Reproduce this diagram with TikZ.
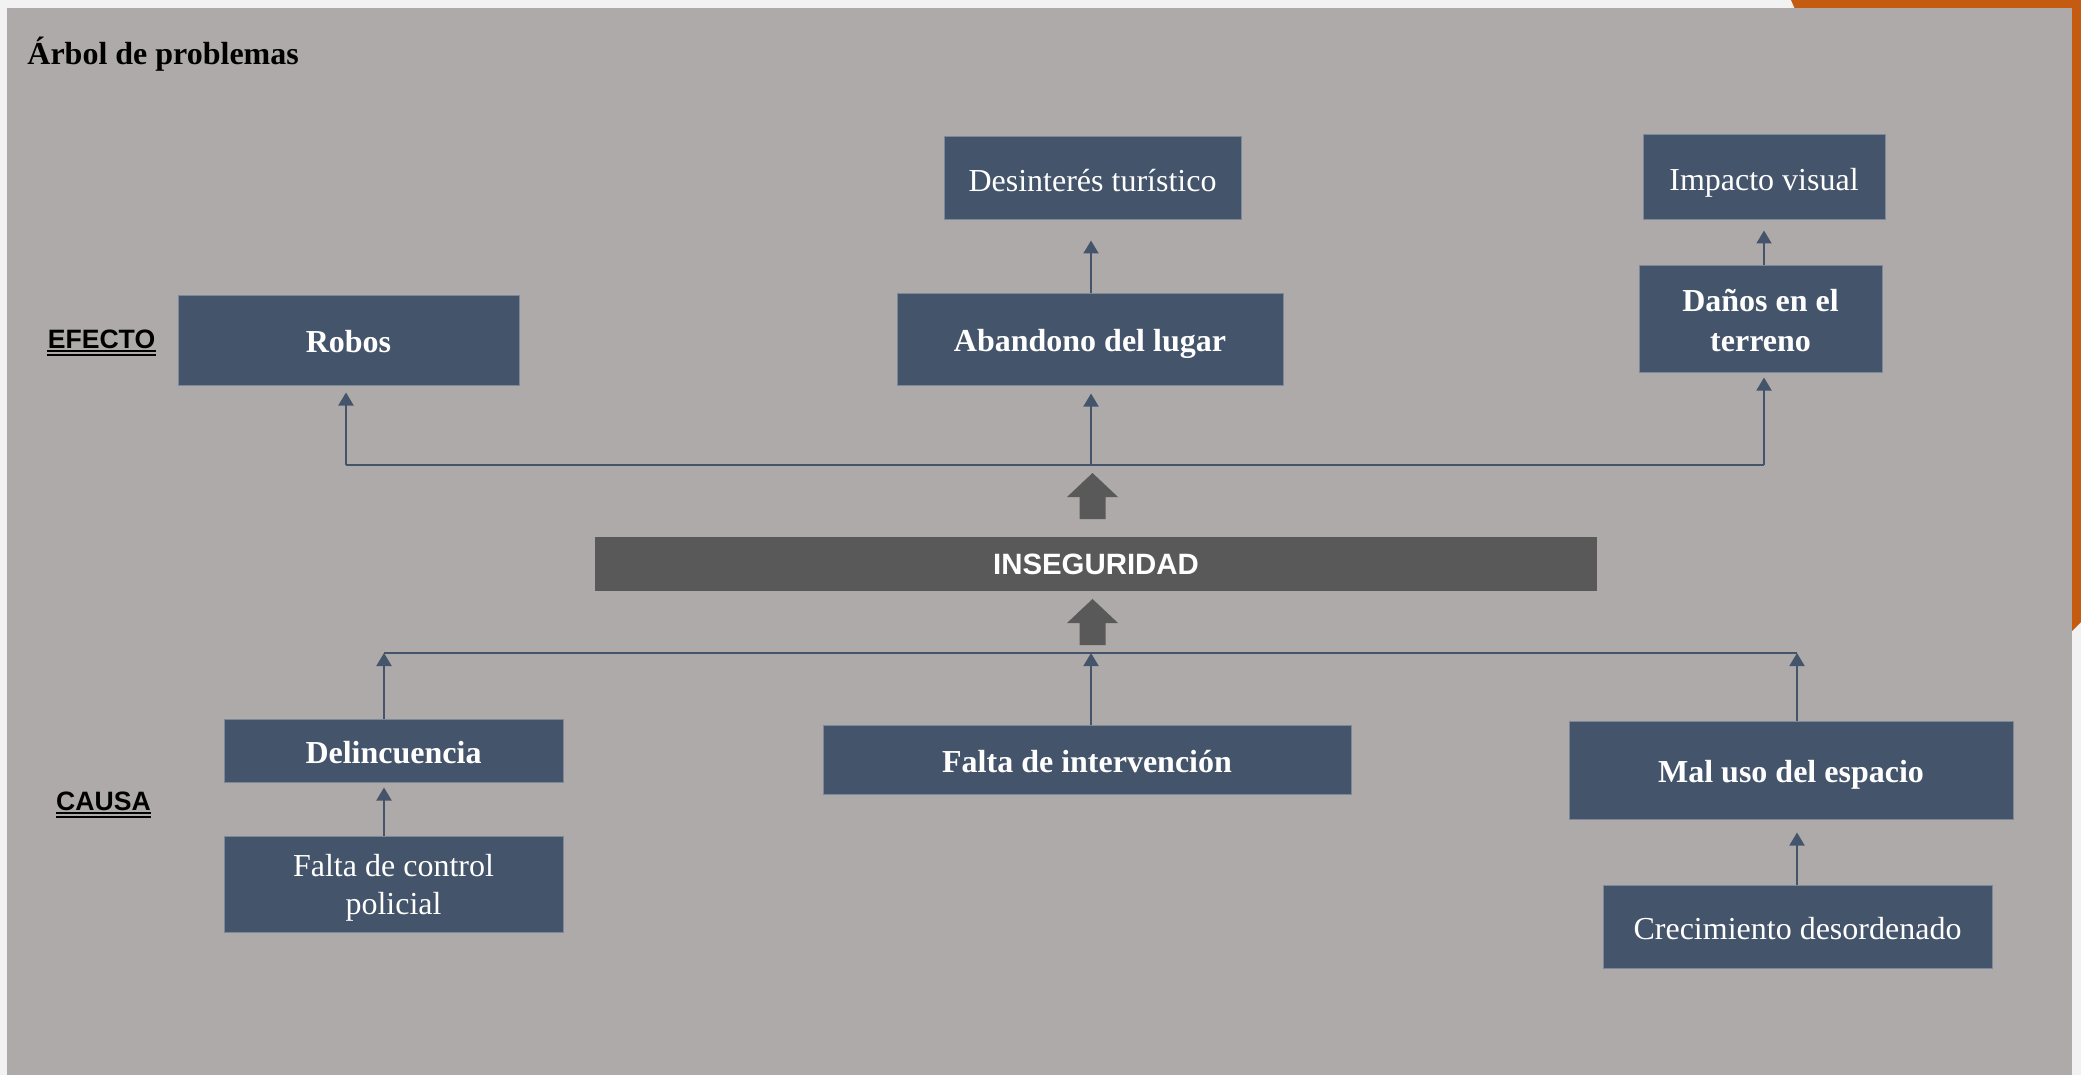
\documentclass[tikz,border=0pt]{standalone}
\usepackage{fontspec}
\setmainfont{Liberation Serif}
\newfontfamily\headfont{Liberation Sans}
\usetikzlibrary{arrows.meta}
\definecolor{myslate}{RGB}{68,84,106}
\definecolor{myslateedge}{RGB}{125,137,153}
\definecolor{mypanel}{RGB}{174,170,170}
\definecolor{mydarkgray}{RGB}{89,89,89}
\definecolor{myorange}{RGB}{197,90,17}
\definecolor{mypaper}{RGB}{242,242,242}
\newcommand{\boxfont}{\fontsize{16}{20}\selectfont}
\newcommand{\tipwidth}{7.5pt}
\newcommand{\tiplength}{6.5pt}
\newcommand{\topstrut}[1]{\rule{0pt}{#1}}
\tikzset{
    common/.style={rectangle, draw=myslateedge, line width=0.5pt, fill=myslate, text=white, align=center, inner sep=0pt, text height=15pt, text depth=2.4pt},
    boldbox/.style={common, font=\boxfont\bfseries},
    lightbox/.style={common, font=\boxfont},
    twolines/.style={text height={}, text depth={}},
    core/.style={rectangle, fill=mydarkgray, text=white, inner sep=0pt, font=\headfont\fontsize{14.7}{17}\selectfont\bfseries},
    heading/.style={inner sep=0pt, font=\headfont\fontsize{13.3}{16}\selectfont\bfseries},
    link/.style={draw=myslate, line width=1pt, -{Triangle[width=\tipwidth, length=\tiplength]}},
    bus/.style={draw=myslate, line width=0.75pt},
    fatarrow/.pic={
        \fill[mydarkgray] (0,0) -- (25.5,24) -- (13,24) -- (13,46) -- (-13,46) -- (-13,24) -- (-25.5,24) -- cycle;
    }
}

\begin{document}
\begin{tikzpicture}[x=0.5pt, y=-0.5pt]
    \useasboundingbox (0,0) rectangle (2081,1075);
    % page and panel
    \fill[mypaper] (0,0) rectangle (2081,1075);
    \fill[myorange] (1791,0) -- (2081,0) -- (2081,622) -- (2066,637) -- cycle;
    \fill[mypanel] (7,8) rectangle (2072,1075);

    \node[anchor=base west, inner sep=0pt, font=\fontsize{16}{19}\selectfont\bfseries] (titulo) at (27,65) {Árbol de problemas};

    % effects
    \node[boldbox, minimum width=170.5pt, minimum height=45pt] (robos) at (348.5,340) {Robos};
    \node[boldbox, minimum width=193pt, minimum height=46pt] (abandono) at (1090,339) {Abandono del lugar};
    \node[boldbox, twolines, minimum width=121.5pt, minimum height=53.5pt] (danos) at (1760.5,318.5) {\topstrut{13pt}Daños en el\\terreno};
    \node[lightbox, minimum width=148.5pt, minimum height=41.5pt] (desinteres) at (1092.5,178.5) {Desinterés turístico};
    \node[lightbox, minimum width=121pt, minimum height=42.5pt] (impacto) at (1764,177.5) {Impacto visual};

    % problem
    \node[core, minimum width=501pt, minimum height=27pt] (inseguridad) at (1096,564) {INSEGURIDAD};

    % causes
    \node[boldbox, minimum width=169.5pt, minimum height=31.5pt] (delincuencia) at (393.5,750.5) {Delincuencia};
    \node[lightbox, twolines, minimum width=169.5pt, minimum height=48pt, font=\fontsize{16}{19.2}\selectfont] (control) at (393.5,884) {\topstrut{15pt}Falta de control\\policial};
    \node[boldbox, minimum width=264pt, minimum height=34.5pt] (intervencion) at (1087,759.5) {Falta de intervención};
    \node[boldbox, minimum width=222pt, minimum height=49pt] (maluso) at (1791,770) {Mal uso del espacio};
    \node[lightbox, minimum width=194.5pt, minimum height=41.5pt] (crecimiento) at (1797.5,926.5) {Crecimiento desordenado};

    % side headings
    \node[heading, anchor=base] (efecto) at (101.5,348) {EFECTO};
    \node[heading, anchor=base] (causa) at (103.5,810) {CAUSA};
    \foreach \h in {efecto, causa} {
        \draw[line width=0.8pt] ([yshift=-1.6pt]\h.base west) -- ([yshift=-1.6pt]\h.base east);
        \draw[line width=0.8pt] ([yshift=-3.6pt]\h.base west) -- ([yshift=-3.6pt]\h.base east);
    }

    % upper bus
    \coordinate (t1) at (346,465);
    \coordinate (t2) at (1091,465);
    \coordinate (t3) at (1764,465);
    \draw[bus] (t1) -- (t3);
    \draw[link, shorten >=3.5pt] (t1) -- (t1 |- robos.south);
    \draw[link, shorten >=4pt] (t2) -- (t2 |- abandono.south);
    \draw[link, shorten >=2.5pt] (t3) -- (t3 |- danos.south);
    \draw[link, shorten >=10pt] (t2 |- abandono.north) -- (t2 |- desinteres.south);
    \draw[link, shorten >=5pt] (t3 |- danos.north) -- (t3 |- impacto.south);

    % lower bus
    \coordinate (b1) at (384,653);
    \coordinate (b2) at (1091,653);
    \coordinate (b3) at (1797,653);
    \draw[bus] (b1) -- (b3);
    \draw[link] (b1 |- delincuencia.north) -- (b1);
    \draw[link] (b2 |- intervencion.north) -- (b2);
    \draw[link] (b3 |- maluso.north) -- (b3);
    \draw[link, shorten >=2.5pt] (b1 |- control.north) -- (b1 |- delincuencia.south);
    \draw[link, shorten >=6.5pt] (b3 |- crecimiento.north) -- (b3 |- maluso.south);

    % block arrows round the problem
    \pic at (1092.5,473) {fatarrow};
    \pic at (1092.5,599) {fatarrow};
\end{tikzpicture}
\end{document}
